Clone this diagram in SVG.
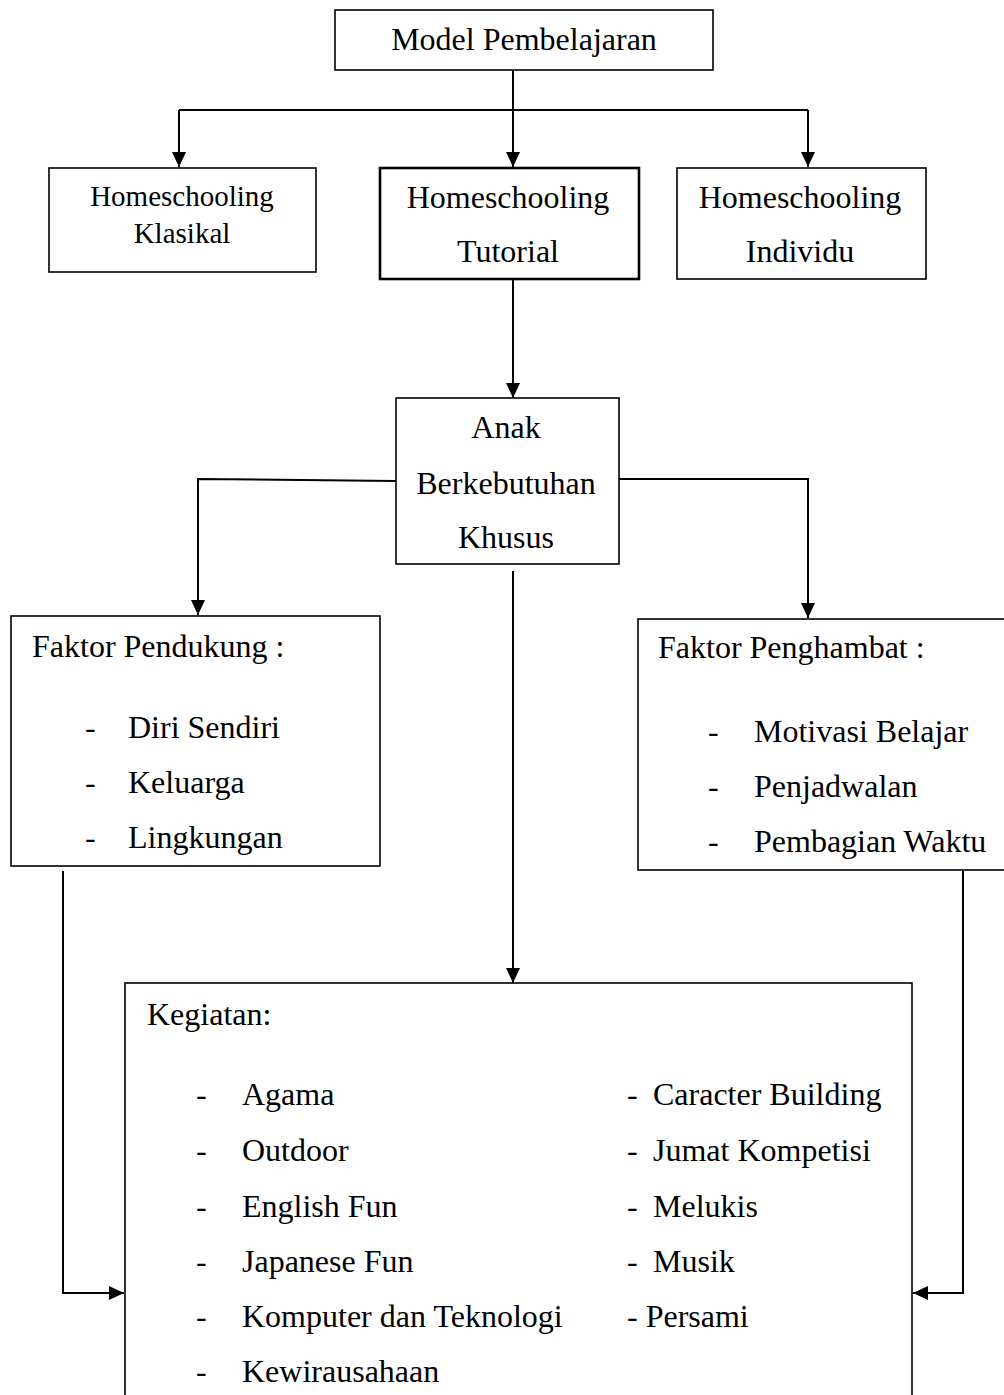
<svg xmlns="http://www.w3.org/2000/svg" width="1004" height="1395" viewBox="0 0 1004 1395">
<style>
  .box { fill: #fff; stroke: #000; stroke-width: 1.6; }
  .thick { stroke-width: 2.6; }
  .t { font-family: "Liberation Serif", "Times New Roman", serif; font-size: 32px; fill: #000; }
  .s { font-size: 29px; }
  .c { text-anchor: middle; }
  .conn { fill: none; stroke: #000; stroke-width: 2; }
</style>
<defs>
  <marker id="arr" markerUnits="userSpaceOnUse" markerWidth="15" markerHeight="14" refX="15" refY="7" orient="auto" viewBox="0 0 15 14">
    <path d="M0,0 L15,7 L0,14 z" fill="#000"/>
  </marker>
</defs>
<rect width="1004" height="1395" fill="#fff"/>

<g id="connectors">
  <path class="conn" d="M513,70 V167" marker-end="url(#arr)"/>
  <path class="conn" d="M179,110 H808"/>
  <path class="conn" d="M179,110 V167" marker-end="url(#arr)"/>
  <path class="conn" d="M808,110 V167" marker-end="url(#arr)"/>
  <path class="conn" d="M513,279 V398" marker-end="url(#arr)"/>
  <path class="conn" d="M396,481 L198,479 V615" marker-end="url(#arr)"/>
  <path class="conn" d="M619,479 H808 V618" marker-end="url(#arr)"/>
  <path class="conn" d="M513,571 V983" marker-end="url(#arr)"/>
  <path class="conn" d="M63,871 V1293 H124" marker-end="url(#arr)"/>
  <path class="conn" d="M963,871 V1293 H913" marker-end="url(#arr)"/>
</g>

<g id="model">
  <rect class="box" x="335" y="10" width="378" height="60"/>
  <text class="t c" x="524" y="50">Model Pembelajaran</text>
</g>

<g id="klasikal">
  <rect class="box" x="49" y="168" width="267" height="104"/>
  <text class="t s c" x="182" y="206">Homeschooling</text>
  <text class="t s c" x="182" y="243">Klasikal</text>
</g>

<g id="tutorial">
  <rect class="box thick" x="380" y="168" width="259" height="111"/>
  <text class="t c" x="508" y="208">Homeschooling</text>
  <text class="t c" x="508" y="262">Tutorial</text>
</g>

<g id="individu">
  <rect class="box" x="677" y="168" width="249" height="111"/>
  <text class="t c" x="800" y="208">Homeschooling</text>
  <text class="t c" x="800" y="262">Individu</text>
</g>

<g id="abk">
  <rect class="box" x="396" y="398" width="223" height="166"/>
  <text class="t c" x="506" y="438">Anak</text>
  <text class="t c" x="506" y="494">Berkebutuhan</text>
  <text class="t c" x="506" y="548">Khusus</text>
</g>

<g id="pendukung">
  <rect class="box" x="11" y="616" width="369" height="250"/>
  <text class="t" x="32" y="657">Faktor Pendukung :</text>
  <text class="t" x="85" y="738">-</text>
  <text class="t" x="128" y="738">Diri Sendiri</text>
  <text class="t" x="85" y="793">-</text>
  <text class="t" x="128" y="793">Keluarga</text>
  <text class="t" x="85" y="848">-</text>
  <text class="t" x="128" y="848">Lingkungan</text>
</g>

<g id="penghambat">
  <rect class="box" x="638" y="619" width="400" height="251"/>
  <text class="t" x="658" y="658">Faktor Penghambat :</text>
  <text class="t" x="708" y="742">-</text>
  <text class="t" x="754" y="742">Motivasi Belajar</text>
  <text class="t" x="708" y="797">-</text>
  <text class="t" x="754" y="797">Penjadwalan</text>
  <text class="t" x="708" y="852">-</text>
  <text class="t" x="754" y="852">Pembagian Waktu</text>
</g>

<g id="kegiatan">
  <rect class="box" x="125" y="983" width="787" height="440"/>
  <text class="t" x="147" y="1025">Kegiatan:</text>
  <text class="t" x="196" y="1105">-</text>
  <text class="t" x="242" y="1105">Agama</text>
  <text class="t" x="196" y="1161">-</text>
  <text class="t" x="242" y="1161">Outdoor</text>
  <text class="t" x="196" y="1217">-</text>
  <text class="t" x="242" y="1217">English Fun</text>
  <text class="t" x="196" y="1272">-</text>
  <text class="t" x="242" y="1272">Japanese Fun</text>
  <text class="t" x="196" y="1327">-</text>
  <text class="t" x="242" y="1327">Komputer dan Teknologi</text>
  <text class="t" x="196" y="1382">-</text>
  <text class="t" x="242" y="1382">Kewirausahaan</text>
  <text class="t" x="627" y="1105">-</text>
  <text class="t" x="653" y="1105">Caracter Building</text>
  <text class="t" x="627" y="1161">-</text>
  <text class="t" x="653" y="1161">Jumat Kompetisi</text>
  <text class="t" x="627" y="1217">-</text>
  <text class="t" x="653" y="1217">Melukis</text>
  <text class="t" x="627" y="1272">-</text>
  <text class="t" x="653" y="1272">Musik</text>
  <text class="t" x="627" y="1327">- Persami</text>
</g>
</svg>
